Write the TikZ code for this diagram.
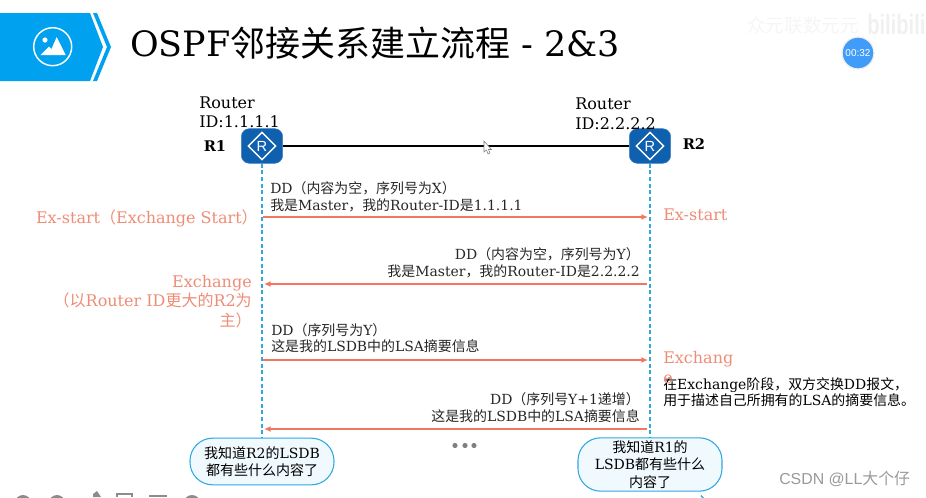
\documentclass[tikz,border=0pt]{standalone}
\usepackage{fontspec}
\setmainfont{DejaVu Serif}
\setsansfont{Liberation Sans}
\newfontfamily\cjk{Noto Sans CJK SC}
\newcommand{\zh}[1]{{\cjk #1}}
\usepackage{tikz}
\usetikzlibrary{arrows.meta,shapes.geometric,positioning}
\definecolor{bannerblue}{RGB}{0,162,240}
\definecolor{routerblue}{RGB}{16,96,176}
\definecolor{lifeblue}{RGB}{48,168,224}
\definecolor{accentsalmon}{RGB}{240,120,96}
\definecolor{labelsalmon}{RGB}{238,140,118}
\definecolor{bubblefill}{RGB}{240,250,254}
\definecolor{badgeblue}{RGB}{64,156,248}
\tikzset{
    routerbox/.style={draw=routerblue!80!white, fill=routerblue, rounded corners=6pt, minimum width=31pt, minimum height=26pt, inner sep=0pt},
    routermark/.style={draw=white, line width=1.1pt, diamond, minimum width=21pt, minimum height=21pt, inner sep=0pt, text=white, font=\sffamily\fontsize{11}{13}\selectfont},
    lifeline/.style={draw=lifeblue, line width=0.9pt, densely dashed},
    flowarrow/.style={draw=accentsalmon, line width=1.1pt, -{Latex[length=5pt,width=4.5pt]}},
    msglabel/.style={font=\fontsize{10.45}{12.2}\selectfont, inner sep=0pt, text=black!85},
    statelabel/.style={font=\fontsize{12}{14.4}\selectfont, inner sep=0pt, text=labelsalmon},
    idlabel/.style={font=\fontsize{12}{14.6}\selectfont, inner sep=0pt, align=left, anchor=north west},
    namelabel/.style={font=\fontsize{11}{13}\selectfont\bfseries, inner sep=0pt},
    bubble/.style={draw=lifeblue, fill=bubblefill, line width=0.8pt, rounded corners=17pt, minimum width=108pt, inner sep=0pt, align=center, font=\fontsize{10.5}{13}\selectfont},
}
\begin{document}
\begin{tikzpicture}[x=0.75pt,y=-0.75pt]
    \useasboundingbox (0,0) rectangle (926,497);
    \clip (0,0) rectangle (926,497);

    % banner
    \fill[bannerblue] (0,13) -- (90,13) -- (103,47) -- (90,81) -- (0,81) -- cycle;
    \fill[bannerblue] (93,13) -- (97,13) -- (111,47) -- (97,81) -- (93,81) -- (107,47) -- cycle;
    \draw[white, line width=1.1pt] (52.7,46.7) circle (19);
    \fill[white] (45,40) circle (2.6);
    \fill[white] (40.7,55) -- (49,46.5) -- (51.5,49) -- (56.7,37) -- (65.7,55) -- cycle;
    \node[font=\fontsize{26.2}{32}\selectfont, anchor=base west, inner sep=0pt] (title) at (130,56) {OSPF\zh{邻接关系建立流程} - 2\&3};

    % watermark and badge
    \node[font=\fontsize{14}{16}\selectfont, text=black!4, anchor=west, inner sep=0pt] (mark) at (747,25) {\zh{众元联数元元}};
    \node[font=\sffamily\bfseries\fontsize{21}{24}\selectfont, text=black!6, anchor=west, inner sep=0pt] (site) at (867,24) {\scalebox{0.72}[1]{bilibili}};
    \node[circle, draw=black!6, line width=1pt, fill=badgeblue, minimum size=24pt, inner sep=0pt, text=white, font=\sffamily\fontsize{7.5}{9}\selectfont] (badge) at (858,53) {00:32};

    % routers
    \node[routerbox] (R1) at (262,146) {};
    \node[routerbox] (R2) at (650,146) {};
    \node[routermark] (markone) at (R1) {R};
    \node[routermark] (marktwo) at (R2) {R};
    \draw[line width=0.9pt] (R1) -- (R2);
    \node[idlabel] (idone) at (199,96.5) {Router\\ID:1.1.1.1};
    \node[idlabel] (idtwo) at (575,98) {Router\\ID:2.2.2.2};
    \node[namelabel] (nameone) at (215,146) {R1};
    \node[namelabel] (nametwo) at (694,144) {R2};

    % pointer
    \draw[black!50, fill=white, line width=0.4pt] (484,141) -- (484,152) -- (486.5,150) -- (488,154) -- (490,153) -- (488.5,149.5) -- (491.5,149.5) -- cycle;

    % bubbles and lifelines
    \node[bubble, minimum height=35pt] (knowone) at (262,461.5) {\zh{我知道}R2\zh{的}LSDB\\\zh{都有些什么内容了}};
    \node[bubble, minimum height=40pt] (knowtwo) at (650,464.5) {\zh{我知道}R1\zh{的}\\LSDB\zh{都有些什么}\\\zh{内容了}};
    \draw[lifeline] (R1) -- (knowone);
    \draw[lifeline] (R2) -- (knowtwo);

    % message ends on the lifelines
    \coordinate (a1) at (263,217);
    \coordinate (b1) at (648,217);
    \coordinate (a2) at (264,284);
    \coordinate (b2) at (647,284);
    \coordinate (a3) at (263,360);
    \coordinate (b3) at (648,360);
    \coordinate (a4) at (264,429);
    \coordinate (b4) at (647,429);
    \draw[flowarrow] (a1) -- (b1);
    \draw[flowarrow] (b2) -- (a2);
    \draw[flowarrow] (a3) -- (b3);
    \draw[flowarrow] (b4) -- (a4);

    % messages
    \node[msglabel, align=left, anchor=south west] (msgone) at (270,212) {DD\zh{（内容为空，序列号为}X\zh{）}\\\zh{我是}Master\zh{，我的}Router-ID\zh{是}1.1.1.1};
    \node[msglabel, align=right, anchor=south east] (msgtwo) at (640,278) {DD\zh{（内容为空，序列号为}Y\zh{）}\\\zh{我是}Master\zh{，我的}Router-ID\zh{是}2.2.2.2};
    \node[msglabel, align=left, anchor=south west] (msgthree) at (271,353) {DD\zh{（序列号为}Y\zh{）}\\\zh{这是我的}LSDB\zh{中的}LSA\zh{摘要信息}};
    \node[msglabel, align=right, anchor=south east] (msgfour) at (640,422.5) {DD\zh{（序列号}Y+1\zh{递增）}\\\zh{这是我的}LSDB\zh{中的}LSA\zh{摘要信息}};
    \node[msglabel, align=left, anchor=north west, text=black] (note) at (663,377.5) {\zh{在}Exchange\zh{阶段，双方交换}DD\zh{报文，}\\\zh{用于描述自己所拥有的}LSA\zh{的摘要信息。}};

    % states
    \node[statelabel, anchor=east] (stateone) at (258,218) {Ex-start\zh{（}Exchange Start\zh{）}};
    \node[statelabel, anchor=west] (statetwo) at (663,215) {Ex-start};
    \node[statelabel, anchor=north east, align=right, font=\fontsize{12}{14.6}\selectfont] (statethree) at (252,275) {Exchange\\\zh{（以}Router ID\zh{更大的}R2\zh{为}\\\zh{主）}};
    \node[statelabel, anchor=north west, align=left, font=\fontsize{12}{15}\selectfont] (statefour) at (663,351) {Exchang\\e};

    % dots
    \foreach \x in {455,465,474}
        \fill[black!50] (\x,445.5) circle (2.6);

    % toolbar remains
    \foreach \x in {23,57,192}
        \fill[black!45] (\x,503) circle (8);
    \fill[black!45] (93,497) -- (93,494) -- (97,491) -- (101,497) -- cycle;
    \draw[black!45, line width=0.8pt] (117,497) -- (117,494) -- (132,494) -- (132,497);
    \fill[black!45] (149,497) -- (149,495) -- (167,495) -- (167,497) -- cycle;
    \draw[lifeblue, line width=1pt] (701,495.5) arc[start angle=150, end angle=60, radius=9];

    % source mark
    \node[font=\sffamily\fontsize{11.9}{13}\selectfont, text=black!40, anchor=west, inner sep=0pt] (csdn) at (779,479) {CSDN @LL\zh{大个仔}};
\end{tikzpicture}
\end{document}
